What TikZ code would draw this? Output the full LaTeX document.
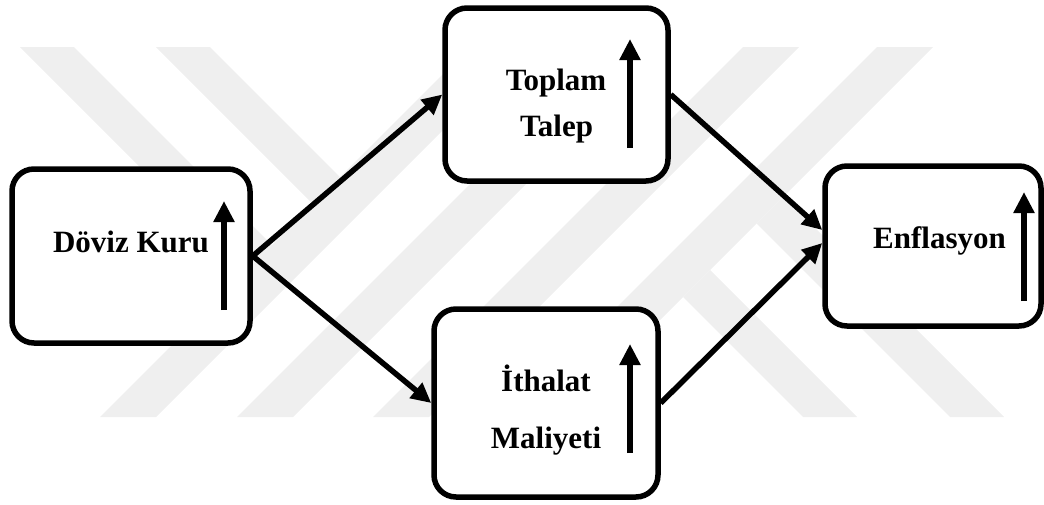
\documentclass[tikz,border=0pt]{standalone}
\usepackage{fontspec}
\setmainfont{Liberation Serif}
\usetikzlibrary{arrows.meta,calc}
\definecolor{wm}{RGB}{239,239,239}
\begin{document}
\begin{tikzpicture}[x=1pt,y=-1pt,
  box/.style={draw=black, line width=5.5pt, rounded corners=22pt, fill=white, inner sep=0pt},
  lbl/.style={font=\fontsize{31pt}{37pt}\selectfont\bfseries, inner sep=0pt, anchor=base},
  conn/.style={line width=5.5pt, -{Triangle[length=20pt,width=19pt]}},
  rise/.style={line width=6.5pt, -{Triangle[length=21pt,width=20pt]}},
  band/.style={fill=wm, draw=none}]
\useasboundingbox (0,0) rectangle (1044,504);
% watermark bands
\fill[band] (100,417) -- (156,417) -- (526,47) -- (470,47) -- cycle;
\fill[band] (237,417) -- (293,417) -- (663,47) -- (607,47) -- cycle;
\fill[band] (373,417) -- (429,417) -- (799,47) -- (743,47) -- cycle;
\fill[band] (507,417) -- (563,417) -- (933,47) -- (877,47) -- cycle;
\fill[band] (20,47) -- (74,47) -- (272,245) -- (245,272) -- cycle;
\fill[band] (156,47) -- (210,47) -- (340,177) -- (313,204) -- cycle;
\fill[band] (803,417) -- (857,417) -- (710,270) -- (683,297) -- cycle;
\fill[band] (950,417) -- (1004,417) -- (783.5,196.5) -- (756.5,223.5) -- cycle;
% boxes
\node[box, minimum width=238pt, minimum height=174pt] (dk) at (131,256) {};
\node[box, minimum width=223pt, minimum height=173pt] (tt) at (556.5,94.5) {};
\node[box, minimum width=224pt, minimum height=188pt] (it) at (546,403) {};
\node[box, minimum width=216pt, minimum height=160pt] (ef) at (933,246) {};
% labels
\node[lbl] (dkt) at (131,252) {Döviz Kuru};
\node[lbl] (tt1) at (556,90.7) {Toplam};
\node[lbl] (tt2) at (556.5,136.7) {Talep};
\node[lbl] (it1) at (546,391.7) {İthalat};
\node[lbl] (it2) at (546,448.3) {Maliyeti};
\node[lbl] (eft) at (939.5,248.3) {Enflasyon};
% rising arrows
\coordinate (dka) at (224,310); \coordinate (dkb) at (224,201);
\coordinate (tta) at (630,148); \coordinate (ttb) at (630,39);
\coordinate (ita) at (630,453); \coordinate (itb) at (630,344);
\coordinate (efa) at (1024,301); \coordinate (efb) at (1024,192);
\draw[rise] (dka) -- (dkb);
\draw[rise] (tta) -- (ttb);
\draw[rise] (ita) -- (itb);
\draw[rise] (efa) -- (efb);
% connectors
\draw[conn] (dk.east) -- (tt.west);
\draw[conn] (dk.east) -- (it.west);
\draw[conn] (tt.east) -- ([yshift=16pt]ef.west);
\draw[conn] (it.east) -- ([yshift=3pt]ef.west);
\end{tikzpicture}
\end{document}
